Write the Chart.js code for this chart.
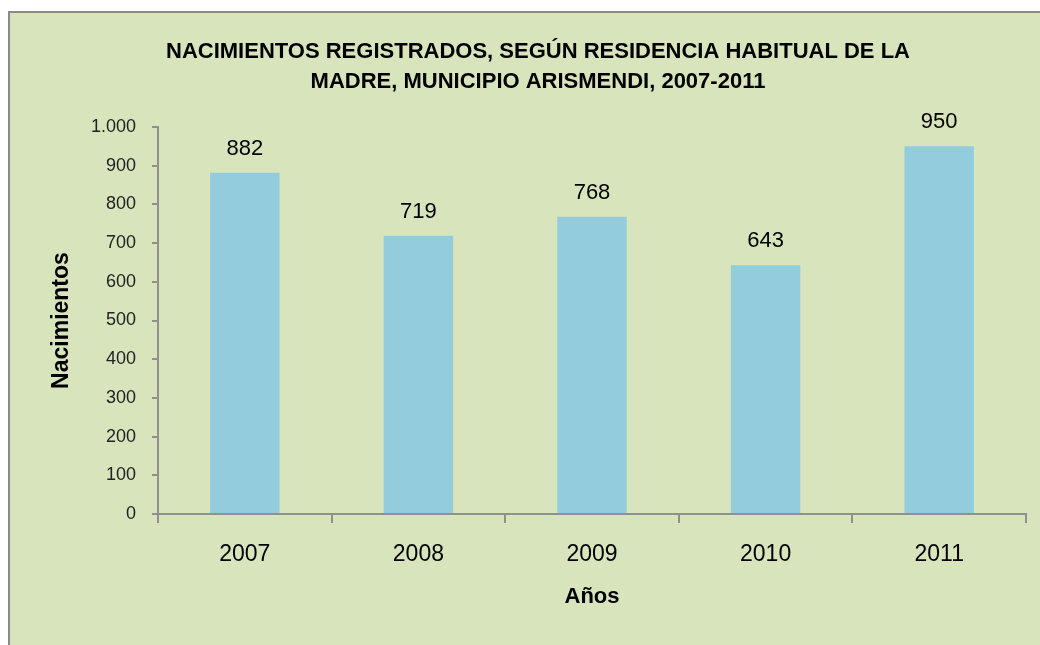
<!DOCTYPE html>
<html>
<head>
<meta charset="utf-8">
<script src="https://cdn.jsdelivr.net/npm/chart.js@4"></script>
<style>
  html, body { margin: 0; padding: 0; background: #ffffff; overflow: hidden; width: 1040px; height: 645px; }
  #frame {
    position: absolute; left: 8px; top: 11px; width: 1060px; height: 660px;
    border-left: 2px solid #8a8a8a; border-top: 2px solid #8a8a8a;
    background: #d8e4bc; overflow: hidden;
  }
  #c { position: absolute; left: 0; top: 0; }
</style>
</head>
<body>
<div id="frame"><canvas id="c" width="1056" height="632"></canvas></div>
<script>
const categories = ['2007', '2008', '2009', '2010', '2011'];
const births = [882, 719, 768, 643, 950];
const yTickLabels = ['0', '100', '200', '300', '400', '500', '600', '700', '800', '900', '1.000'];
const titleLines = ['NACIMIENTOS REGISTRADOS, SEGÚN RESIDENCIA HABITUAL DE LA', 'MADRE, MUNICIPIO ARISMENDI, 2007-2011'];
const yTitle = 'Nacimientos';
const xTitle = 'Años';

const FAMILY = '"Liberation Sans", Arial, sans-serif';

const valueLabels = {
  id: 'valueLabels',
  afterDatasetsDraw(chart) {
    const ctx = chart.ctx;
    const meta = chart.getDatasetMeta(0);
    ctx.save();
    ctx.font = '22px ' + FAMILY;
    ctx.fillStyle = '#000000';
    ctx.textAlign = 'center';
    ctx.textBaseline = 'alphabetic';
    meta.data.forEach((bar, i) => {
      ctx.fillText(String(chart.data.datasets[0].data[i]), bar.x, bar.y - 18);
    });
    ctx.restore();
  }
};

new Chart(document.getElementById('c'), {
  type: 'bar',
  data: {
    labels: categories,
    datasets: [{
      data: births,
      backgroundColor: '#93cddd',
      borderWidth: 0,
      barPercentage: 0.4,
      categoryPercentage: 1.0
    }]
  },
  options: {
    responsive: false,
    animation: false,
    devicePixelRatio: 1,
    layout: { padding: { left: 40, right: 40, top: 0, bottom: 0 } },
    plugins: {
      legend: { display: false },
      tooltip: { enabled: false },
      title: {
        display: true,
        text: titleLines,
        color: '#000000',
        font: { family: FAMILY, size: 22, weight: 'bold', lineHeight: 1.364 },
        padding: { top: 24, bottom: 30 }
      }
    },
    scales: {
      x: {
        grid: { display: true, drawOnChartArea: false, drawTicks: true, tickLength: 9, tickColor: '#909090', lineWidth: 2, offset: true },
        border: { display: true, color: '#909090', width: 2 },
        ticks: { color: '#000000', font: { family: FAMILY, size: 23 }, padding: 18 },
        title: {
          display: true, text: xTitle, color: '#000000',
          font: { family: FAMILY, size: 22, weight: 'bold', lineHeight: 1.2 },
          padding: { top: 0, bottom: 35 }
        },
        afterFit(scale) { scale.height = 131; }
      },
      y: {
        min: 0, max: 1000,
        grid: { display: true, drawOnChartArea: false, drawTicks: true, tickLength: 6, tickColor: '#909090', lineWidth: 2 },
        border: { display: true, color: '#909090', width: 2 },
        ticks: {
          stepSize: 100, color: '#222222', padding: 16,
          font: { family: FAMILY, size: 18 },
          callback: (v, i) => yTickLabels[i]
        },
        title: {
          display: true, text: yTitle, color: '#000000',
          font: { family: FAMILY, size: 23, weight: 'bold', lineHeight: 1.0 },
          padding: { top: 0.5, bottom: 0 }
        },
        afterFit(scale) { scale.width = 108; }
      }
    }
  },
  plugins: [valueLabels]
});
</script>
</body>
</html>
